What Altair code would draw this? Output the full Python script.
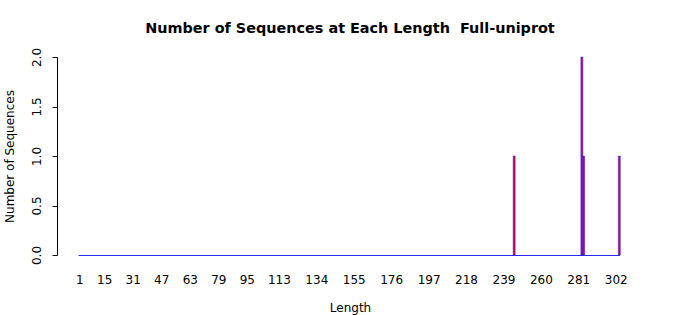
import altair as alt
import pandas as pd

# Data
lengths = [245, 283, 284, 304]
counts = [1, 2, 1, 1]
min_length = 1
max_length = 304
x_tick_labels = [1, 15, 31, 47, 63, 79, 95, 113, 134, 155, 176, 197, 218, 239, 260, 281, 302]
y_ticks = [0, 0.5, 1.0, 1.5, 2.0]

bars_df = pd.DataFrame({"length": lengths, "count": counts})
base_df = pd.DataFrame({"start": [min_length - 0.4], "end": [max_length + 0.4], "zero": [0]})

FONT = "DejaVu Sans"
xscale = alt.Scale(domain=[-11.5, 317.3], nice=False, zero=False, padding=0)
yscale = alt.Scale(domain=[0, 2], nice=False, padding=0)

x_axis = alt.Axis(
    values=x_tick_labels, title="Length", grid=False, domain=False, ticks=False,
    labelFont=FONT, labelFontSize=12, labelColor="black", labelBaseline="middle",
    labelPadding=24, labelOverlap=False, labelFlush=False,
    titleFont=FONT, titleFontSize=12, titleFontWeight="normal", titleColor="black",
    titleX=293, titleY=52, titleBaseline="middle", titleAlign="center",
)
y_axis = alt.Axis(
    values=y_ticks, format=".1f", title="Number of Sequences", grid=False,
    domainColor="black", tickColor="black", tickSize=5,
    labelFont=FONT, labelFontSize=12, labelColor="black", labelAngle=270,
    labelAlign="center", labelBaseline="bottom", labelPadding=9,
    titleFont=FONT, titleFontSize=12, titleFontWeight="normal", titleColor="black",
    titleAngle=270, titleX=-48, titleY=99, titleAlign="center", titleBaseline="middle",
)

baseline = alt.Chart(base_df).mark_rule(color="#2a2aff", strokeWidth=1.2, yOffset=0.5).encode(
    x=alt.X("start:Q", scale=xscale, axis=x_axis),
    x2="end:Q",
    y=alt.Y("zero:Q", scale=yscale, axis=y_axis),
)

bars = alt.Chart(bars_df).mark_bar(
    width=2, fill="#e00030", stroke="#2020ff", strokeWidth=0.5
).encode(
    x=alt.X("length:Q", scale=xscale, axis=x_axis),
    y=alt.Y("count:Q", scale=yscale, axis=y_axis),
)

chart = alt.layer(baseline, bars).properties(
    width=586,
    height=198,
    background="white",
    title=alt.TitleParams(
        "Number of Sequences at Each Length\u00a0\u00a0Full-uniprot",
        font=FONT, fontSize=14.4, fontWeight="bold", color="black",
        anchor="middle", offset=11,
    ),
    autosize=alt.AutoSizeParams(type="none"),
    padding={"left": 57, "top": 57, "right": 57, "bottom": 60},
).configure_view(stroke=None).configure_axisX(labelOverlap=False)

chart.save("out.html", embed_options={"renderer": "svg", "actions": False})
